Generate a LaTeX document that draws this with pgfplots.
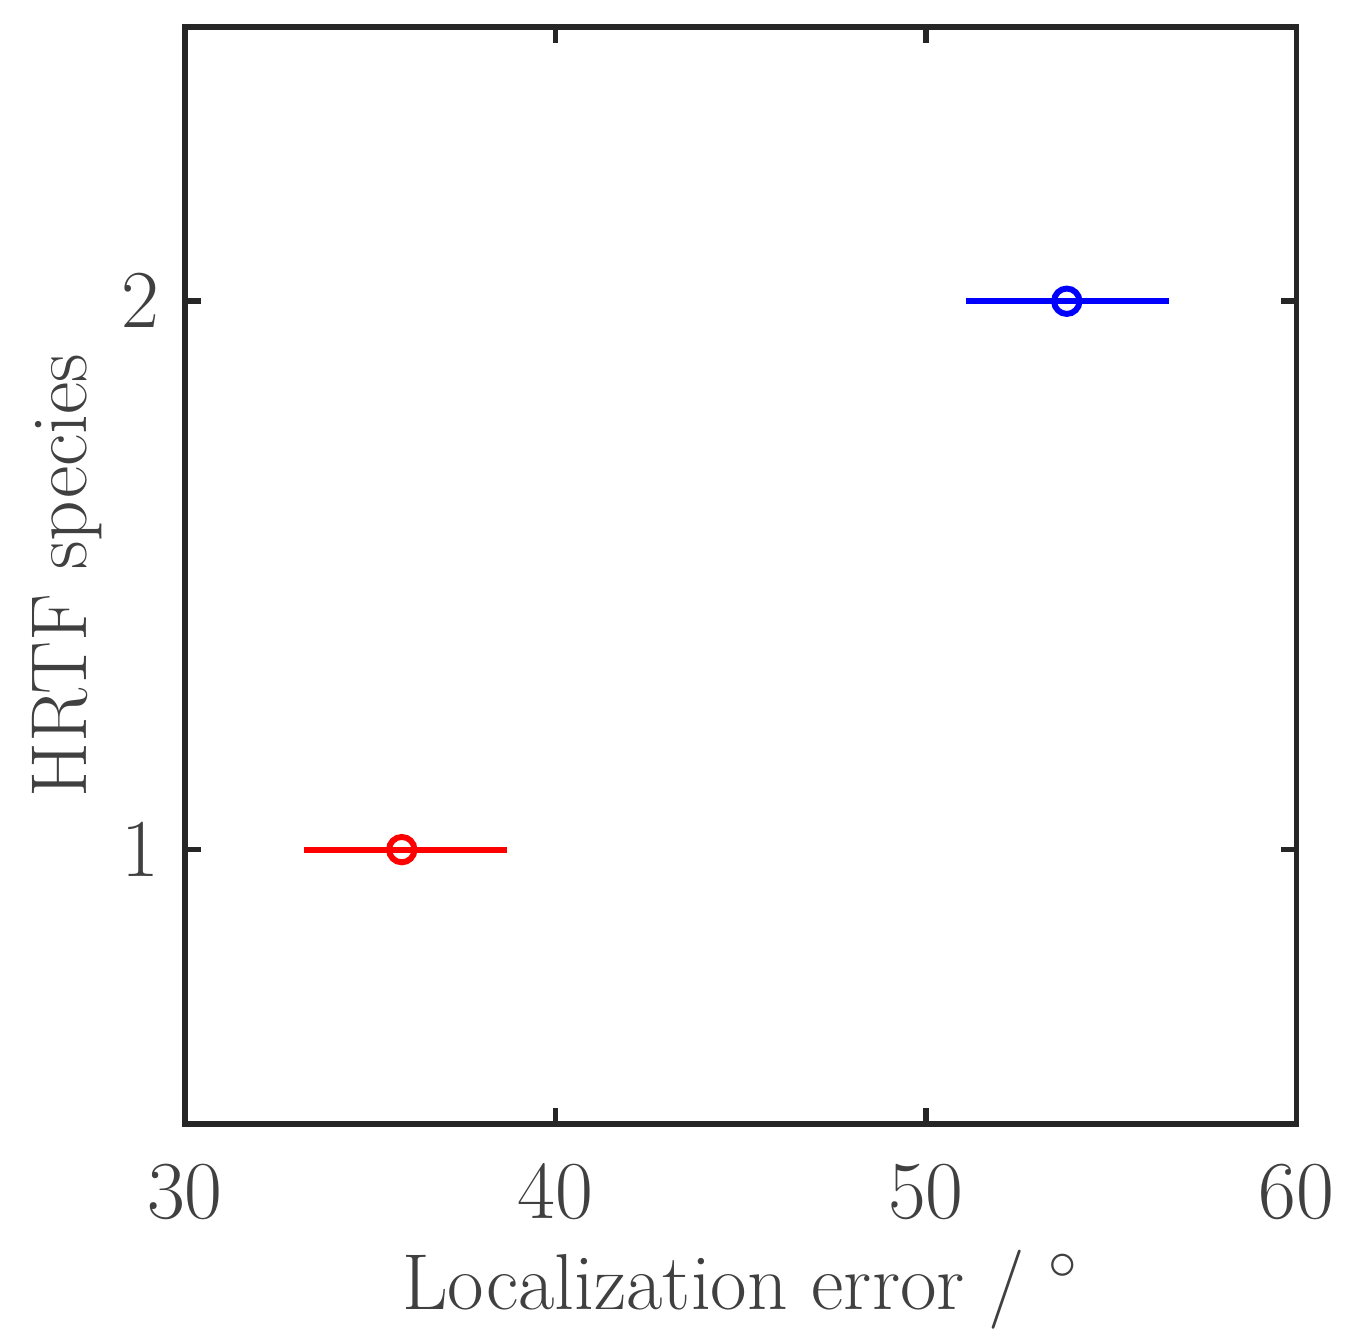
\documentclass[border=0pt]{standalone}
\usepackage{pgfplots}
\pgfplotsset{compat=1.18}
\definecolor{txt}{RGB}{64,64,64}
\definecolor{ax}{RGB}{38,38,38}
\begin{document}
\begin{tikzpicture}
\begin{axis}[
  scale only axis,
  width=9.85cm, height=9.72cm,
  xmin=30, xmax=60, ymin=0.5, ymax=2.5,
  xtick={30,40,50,60}, ytick={1,2},
  tick align=inside, major tick length=4pt,
  axis line style={ax, line width=1.4pt},
  every tick/.style={ax, line width=1.4pt},
  tick label style={txt, font=\fontsize{20}{23}\selectfont},
  label style={txt, font=\fontsize{20}{24}\selectfont},
  xticklabel style={yshift=-7pt},
  yticklabel style={xshift=-3pt},
  xlabel={Localization error / $^\circ$},
  ylabel={HRTF species},
  xlabel style={yshift=-1pt},
  ylabel style={yshift=-2pt},
]
\addplot[red, line width=1.5pt, mark=o, mark size=3.2pt,
  error bars/.cd, x dir=both, x explicit, error mark=none,
  error bar style={line width=1.5pt}]
  coordinates {(35.85,1) += (2.85,0) -= (2.65,0)};
\addplot[blue, line width=1.5pt, mark=o, mark size=3.2pt,
  error bars/.cd, x dir=both, x explicit, error mark=none,
  error bar style={line width=1.5pt}]
  coordinates {(53.8,2) += (2.75,0) -= (2.72,0)};
\end{axis}
\path ([yshift=0.24cm]current axis.north east) ++(0.51cm,0) coordinate (tr);
\path (tr) -- ([xshift=-1.64cm,yshift=-1.82cm]current axis.south west);
\end{tikzpicture}
\end{document}
